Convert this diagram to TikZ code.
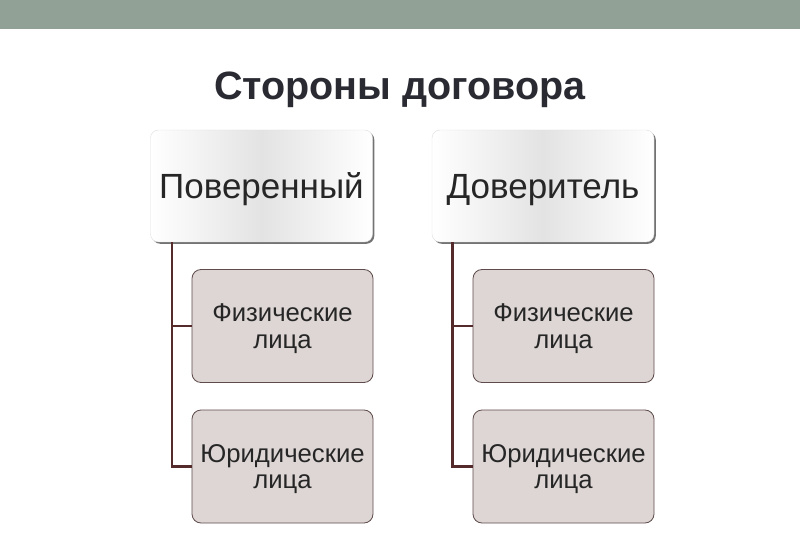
\documentclass[tikz,border=0pt]{standalone}
\usepackage{fontspec}
\setmainfont{Liberation Sans}
\usetikzlibrary{shadows}
\definecolor{barcol}{HTML}{92A196}
\definecolor{titlecol}{HTML}{2A2A33}
\definecolor{kidfill}{HTML}{DDD6D5}
\definecolor{kidline}{HTML}{5E4B4B}
\definecolor{linkcol}{HTML}{552A2A}
\begin{document}
\begin{tikzpicture}[x=1pt, y=-1pt,
    headbox/.style={rectangle, rounded corners=8pt, minimum width=222pt, minimum height=112pt,
        draw=gray!25, left color=white, right color=white, middle color=gray!22,
        drop shadow={shadow xshift=1.8pt, shadow yshift=-1.8pt, fill=black!55, opacity=1},
        text height=30pt, text depth=4pt, text=black!85, font=\fontsize{35}{40}\selectfont},
    kidbox/.style={rectangle, rounded corners=9pt, minimum width=181pt, minimum height=113pt,
        draw=kidline, line width=0.8pt, fill=kidfill, align=center, text height=50pt,
        text=black!85, font=\fontsize{25.7}{26.5}\selectfont},
    link/.style={draw=linkcol, line width=2.2pt}]
            \useasboundingbox (0,0) rectangle (800,553);
            \fill[barcol] (0,0) rectangle (800,29);
            \node[anchor=base, text=titlecol, font=\bfseries\fontsize{39.5}{44}\selectfont] (title) at (400,100) {Стороны договора};
            % left column
            \node[headbox] (pov) at (261.5,186) {Поверенный};
            \node[kidbox] (pfiz) at (282.5,326) {Физические\\лица};
            \node[kidbox] (pjur) at (282.5,466.5) {Юридические\\лица};
            % right column
            \node[headbox] (dov) at (543,186) {Доверитель};
            \node[kidbox] (dfiz) at (563.5,326) {Физические\\лица};
            \node[kidbox] (djur) at (563.5,466.5) {Юридические\\лица};
            \draw[link] ([xshift=-89.5pt]pov.south) |- (pfiz.west);
            \draw[link] ([xshift=-89.5pt]pov.south) |- (pjur.west);
            \draw[link] ([xshift=-90.5pt]dov.south) |- (dfiz.west);
            \draw[link] ([xshift=-90.5pt]dov.south) |- (djur.west);
\end{tikzpicture}
\end{document}
